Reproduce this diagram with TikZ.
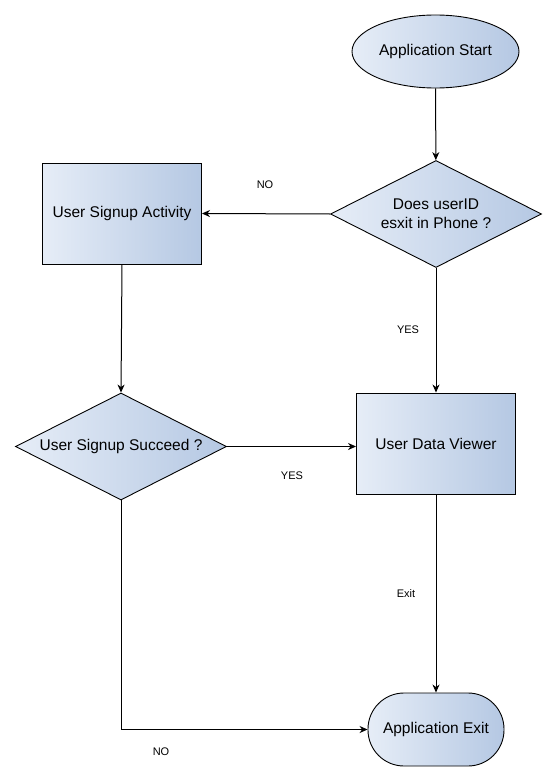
\documentclass[tikz,border=0pt]{standalone}
\usepackage{fontspec}
\setmainfont{Liberation Sans}
\usetikzlibrary{positioning,arrows.meta,shapes.geometric}
\definecolor{boxlight}{HTML}{E6EDF7}
\definecolor{boxdark}{HTML}{B5C8E3}

\tikzset{
  fill box/.style={draw=black, line width=0.9pt, left color=boxlight, right color=boxdark,
                   font=\fontsize{15.5}{19}\selectfont, inner sep=0pt, align=center},
  terminal/.style={fill box, ellipse, minimum width=167pt, minimum height=73pt},
  stopbox/.style={fill box, rectangle, rounded corners=36pt, minimum width=136pt, minimum height=73pt},
  process/.style={fill box, rectangle, minimum width=159pt, minimum height=101pt},
  decision/.style={fill box, diamond, aspect=2, minimum width=211pt, minimum height=107pt},
  lbl/.style={font=\fontsize{11}{13}\selectfont},
  flow/.style={draw=black, line width=1pt, -{Stealth[length=8pt,width=7pt,inset=2.5pt]}}
}

\begin{document}
\begin{tikzpicture}[x=1pt,y=-1pt]
\useasboundingbox (0,0) rectangle (557,781);

\node[terminal] (start) at (435.5,51.5) {Application Start};
\node[decision] (userid) at (436,214) {Does userID\\esxit in Phone ?};
\node[process] (signup) at (122,213.5) {User Signup Activity};
\node[decision] (succeed) at (121,446.5) {User Signup Succeed ?};
\node[process] (viewer) at (436,443.5) {User Data Viewer};
\node[stopbox] (exit) at (436,729.5) {Application Exit};

\node[lbl] (no1) at (265,185) {NO};
\node[lbl] (yes1) at (408,330) {YES};
\node[lbl] (yes2) at (292,476) {YES};
\node[lbl] (exitlbl) at (406,594) {Exit};
\node[lbl] (no2) at (161,752) {NO};

\draw[flow] (start) -- (userid);
\draw[flow] (userid.west) -- (signup.east);
\draw[flow] (userid.south) -- (viewer.north);
\draw[flow] (signup.south) -- (succeed.north);
\draw[flow] (succeed.east) -- (viewer.west |- succeed.east);
\draw[flow] (viewer.south) -- (exit.north);
\draw[flow] (succeed.south) |- (exit.west);

\end{tikzpicture}
\end{document}
